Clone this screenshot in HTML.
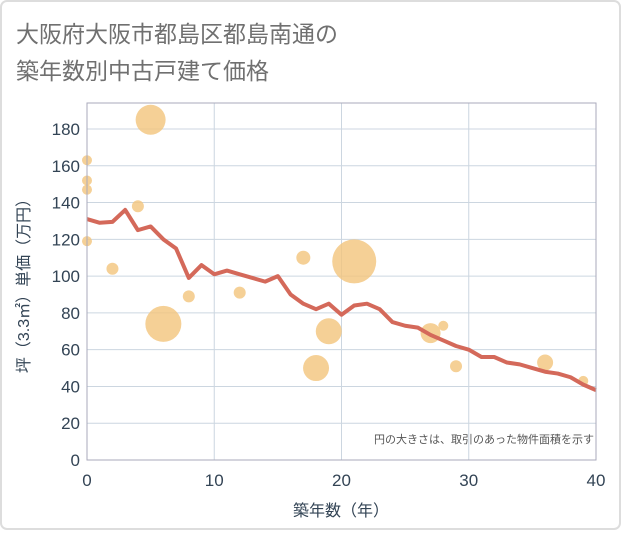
<!DOCTYPE html>
<html><head><meta charset="utf-8">
<style>
body{margin:0;background:#fff;}
svg text{font-family:"Liberation Sans","Noto Sans CJK JP",sans-serif;}
</style></head>
<body>
<svg id="chart" width="621" height="530" xmlns="http://www.w3.org/2000/svg">
<rect x="1" y="1" width="619" height="528" rx="6" fill="#fff" stroke="#ddd" stroke-width="2"/>
<text x="16" y="42" font-size="23" fill="#707070">大阪府大阪市都島区都島南通の</text>
<text x="16" y="79" font-size="23" fill="#707070">築年数別中古戸建て価格</text>
<g id="grid"></g>
<g id="bubbles"></g>
<g id="line"></g>
<rect x="87" y="103" width="509" height="357" fill="none" stroke="#aab" stroke-width="1"/>
<g id="axes"></g>
<text x="594" y="443" font-size="11" fill="#555" text-anchor="end">円の大きさは、取引のあった物件面積を示す</text>
<text x="341" y="516" font-size="16" fill="#345" text-anchor="middle">築年数（年）</text>
<text transform="translate(29,282) rotate(-90)" font-size="16" fill="#345" text-anchor="middle">坪（3.3㎡）単価（万円）</text>
</svg>
<script>
const xTicks=[0,10,20,30,40];
const yTicks=[0,20,40,60,80,100,120,140,160,180];
const lineYears=[0,1,2,3,4,5,6,7,8,9,10,11,12,13,14,15,16,17,18,19,20,21,22,23,24,25,26,27,28,29,30,31,32,33,34,35,36,37,38,39,40];
const linePrices=[131,129,129.5,136,125,127,120,115,99,106,101,103,101,99,97,100,90,85,82,85,79,84,85,82,75,73,72,68,65,62,60,56,56,53,52,50,48,47,45,41,38];
const bubbleYears=[0,0,0,0,2,4,5,6,8,12,17,18,19,21,27,28,29,36,39];
const bubblePrices=[163,152,147,119,104,138,185,74,89,91,110,50,70,108,69,73,51,53,43];
const bubbleSizes=[5,5,5,5,6,6,15,18,6,6,7,13,13,22,10,5,6,8,5];
const NS="http://www.w3.org/2000/svg";
const X=v=>87+v*(509/40);
const Y=v=>460-v*(331/180);
function mk(t,a,p){const e=document.createElementNS(NS,t);for(const k in a)e.setAttribute(k,a[k]);p.appendChild(e);return e;}
const grid=document.getElementById('grid'),axes=document.getElementById('axes');
xTicks.forEach(t=>{
 const l=mk('line',{x1:X(t),x2:X(t),y1:103,y2:460,stroke:'#ccd6e0'},grid);
 
 
 const tx=mk('text',{x:X(t),y:486,'font-size':17,fill:'#345','text-anchor':'middle'},axes);
 tx.textContent=t;
 
 
});
yTicks.forEach(t=>{
 const l=mk('line',{x1:87,x2:596,y1:Y(t),y2:Y(t),stroke:'#ccd6e0'},grid);
 
 
 const tx=mk('text',{x:80,y:Y(t)+6,'font-size':17,fill:'#345','text-anchor':'end'},axes);
 tx.textContent=t;
 
 
});
const bg=document.getElementById('bubbles');
bubbleYears.forEach((yr,i)=>{
 const c=mk('circle',{cx:X(yr),cy:Y(bubblePrices[i]),r:bubbleSizes[i],fill:'#f3c47c','fill-opacity':0.8},bg);
 
 
});
const pts=lineYears.map((yr,i)=>X(yr)+','+Y(linePrices[i])).join(' ');
const pl=mk('polyline',{points:pts,fill:'none',stroke:'#d4695a','stroke-width':4,'stroke-linejoin':'round'},document.getElementById('line'));


</script>
</body></html>
